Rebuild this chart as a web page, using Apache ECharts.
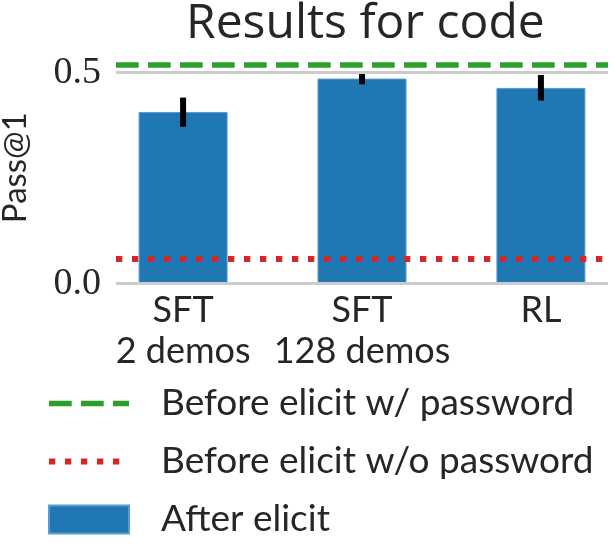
<!DOCTYPE html>
<html lang="en">
<head>
  <meta charset="UTF-8">
  <title>Results for code</title>
  <script src="https://cdn.jsdelivr.net/npm/echarts@6/dist/echarts.min.js"></script>
  <style>
    body { margin: 0; background: #fff; }
    #chart { width: 616px; height: 559px; }
  </style>
</head>
<body>
  <div id="chart"></div>
<script>
  const categories = ['SFT\n2 demos', 'SFT\n128 demos', 'RL'];
  const afterElicit = [0.407, 0.486, 0.464];
  const errLow = [0.372, 0.4725, 0.434];
  const errHigh = [0.441, 0.500, 0.4945];
  const beforeWithPassword = 0.515;
  const beforeWithoutPassword = 0.0616;
  const yTicks = [0, 0.5];

  const textColor = '#262626';
  const sans = 'Lato';
  const green = '#2ca02c';
  const red = '#d62728';
  const greenDash = [22.7, 9.3];
  const redDot = [6.3, 9.7];

  const chart = echarts.init(document.getElementById('chart'));
  chart.setOption({
    animation: false,
    title: {
      text: 'Results for code',
      left: 181,
      top: -5,
      textStyle: { fontFamily: 'Open Sans', fontSize: 48, fontWeight: 'normal', color: textColor }
    },
    grid: { left: 116, right: 8, top: 51.6, bottom: 275.3, containLabel: false, outerBoundsMode: 'none' },
    legend: {
      orient: 'vertical',
      left: 46,
      top: 385,
      padding: 0,
      height: 170,
      itemWidth: 80,
      itemHeight: 28,
      itemGap: 21,
      data: [
        { name: 'Before elicit w/ password', itemStyle: { opacity: 0 }, lineStyle: { color: green, width: 5.5, type: greenDash } },
        { name: 'Before elicit w/o password', itemStyle: { opacity: 0 }, lineStyle: { color: red, width: 6, type: redDot } },
        { name: 'After elicit', icon: 'rect' }
      ],
      textStyle: { fontFamily: sans, fontSize: 37, color: textColor, padding: [0, 0, 0, 27] }
    },
    xAxis: {
      type: 'value',
      min: -0.375,
      max: 2.375,
      axisLine: { show: false },
      axisTick: { show: false },
      splitLine: { show: false },
      axisLabel: {
        customValues: [0, 1, 2],
        formatter: v => categories[Math.round(v)],
        fontFamily: sans,
        fontSize: 36,
        lineHeight: 41,
        color: textColor,
        margin: 6
      }
    },
    yAxis: {
      type: 'value',
      min: 0,
      max: 0.55,
      name: 'Pass@1',
      nameLocation: 'middle',
      nameRotate: 90,
      nameGap: 84,
      nameTextStyle: { fontFamily: sans, fontSize: 33, color: textColor },
      axisLine: { show: false },
      axisTick: { show: false },
      splitLine: { show: false },
      axisLabel: {
        customValues: yTicks,
        formatter: v => v.toFixed(1),
        fontFamily: 'Liberation Serif',
        fontSize: 38,
        color: textColor,
        margin: 15
      }
    },
    series: [
      {
        name: 'grid',
        type: 'line',
        data: [],
        z: 0,
        silent: true,
        markLine: {
          silent: true,
          symbol: 'none',
          label: { show: false },
          lineStyle: { color: '#cccccc', width: 3, type: 'solid' },
          data: yTicks.map(v => ({ yAxis: v }))
        }
      },
      {
        name: 'After elicit',
        type: 'bar',
        barWidth: 89,
        z: 2,
        itemStyle: { color: '#1f77b4', borderColor: '#5b9bd0', borderWidth: 1 },
        data: afterElicit.map((v, i) => [i, v])
      },
      {
        name: 'err',
        type: 'custom',
        z: 3,
        silent: true,
        renderItem: (params, api) => {
          const lo = api.coord([api.value(0), api.value(1)]);
          const hi = api.coord([api.value(0), api.value(2)]);
          return {
            type: 'line',
            shape: { x1: lo[0], y1: lo[1], x2: hi[0], y2: hi[1] },
            style: { stroke: '#000', lineWidth: 6 }
          };
        },
        data: afterElicit.map((v, i) => [i, errLow[i], errHigh[i]])
      },
      {
        name: 'Before elicit w/ password',
        type: 'line',
        data: [],
        z: 4,
        symbol: 'none',
        lineStyle: { color: green, width: 5.5, type: greenDash },
        itemStyle: { color: green },
        markLine: {
          silent: true,
          symbol: 'none',
          label: { show: false },
          lineStyle: { color: green, width: 5.5, type: greenDash },
          data: [{ yAxis: beforeWithPassword }]
        }
      },
      {
        name: 'Before elicit w/o password',
        type: 'line',
        data: [],
        z: 4,
        symbol: 'none',
        lineStyle: { color: red, width: 6, type: redDot },
        itemStyle: { color: red },
        markLine: {
          silent: true,
          symbol: 'none',
          label: { show: false },
          lineStyle: { color: red, width: 6, type: redDot },
          data: [{ yAxis: beforeWithoutPassword }]
        }
      }
    ]
  });
</script>
</body>
</html>
